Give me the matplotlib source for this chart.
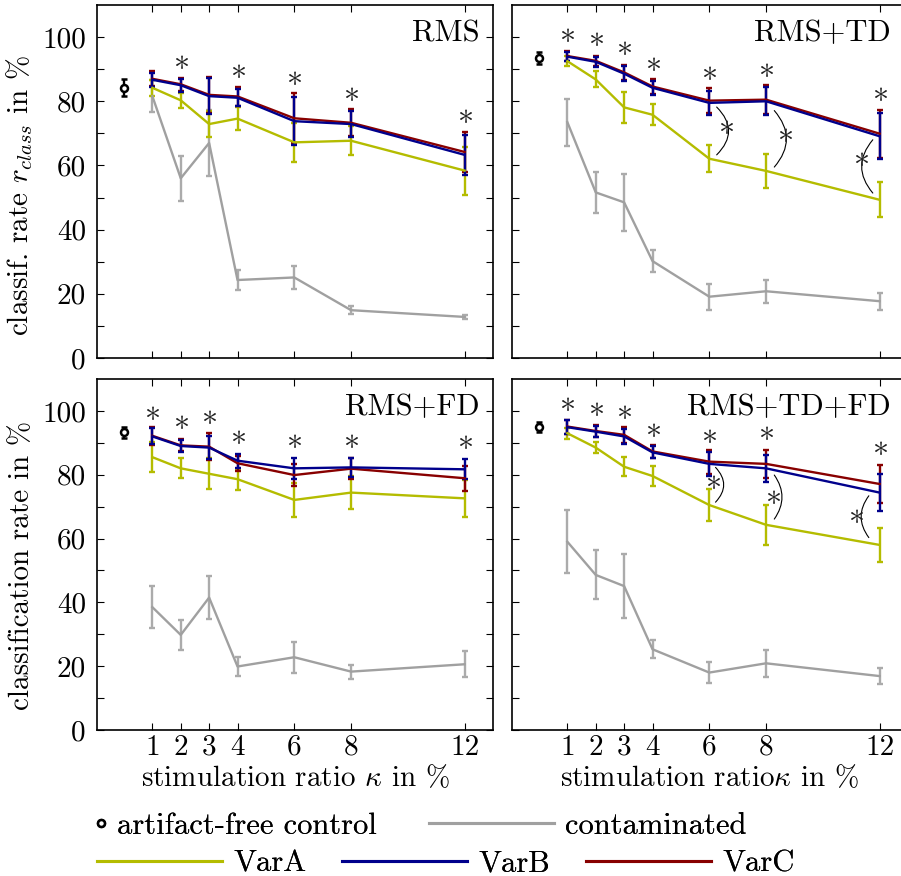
import matplotlib
matplotlib.use('Agg')
import matplotlib.pyplot as plt
from matplotlib.lines import Line2D

# stimulation ratios (x axis)
kappa = [1, 2, 3, 4, 6, 8, 12]

panels = ['RMS', 'RMS+TD', 'RMS+FD', 'RMS+TD+FD']

# artifact-free control (mean, error) per panel
ctrl_mean = [84.2, 93.5, 93.3, 94.9]
ctrl_err = [2.7, 1.8, 1.8, 1.6]

# contaminated
cont_mean = [
    [81.6, 56.0, 67.0, 24.3, 25.1, 14.9, 12.8],
    [73.5, 51.6, 48.5, 30.2, 19.1, 20.8, 17.7],
    [38.5, 29.8, 41.5, 19.9, 22.8, 18.3, 20.6],
    [59.0, 48.6, 45.1, 25.3, 18.0, 20.9, 16.9],
]
cont_err = [
    [5.0, 7.0, 10.3, 3.2, 3.7, 1.2, 0.6],
    [7.3, 6.3, 8.9, 3.5, 4.0, 3.6, 2.7],
    [6.5, 4.6, 6.7, 3.0, 4.8, 2.2, 4.1],
    [9.9, 7.7, 10.1, 2.8, 3.3, 4.3, 2.6],
]

varA_mean = [
    [84.2, 80.3, 72.9, 74.6, 67.2, 67.7, 58.4],
    [92.5, 86.8, 78.1, 75.8, 62.1, 58.3, 49.3],
    [85.5, 82.0, 80.3, 78.6, 72.1, 74.4, 72.6],
    [93.0, 88.5, 82.5, 79.6, 70.5, 64.3, 58.0],
]
varA_err = [
    [2.5, 2.4, 4.0, 3.5, 6.0, 4.5, 7.5],
    [1.5, 2.5, 4.9, 3.3, 4.2, 5.3, 5.5],
    [4.7, 3.1, 4.9, 3.3, 5.2, 5.2, 5.7],
    [1.8, 1.8, 3.0, 3.1, 4.9, 6.2, 5.4],
]

varB_mean = [
    [86.7, 85.0, 81.6, 81.1, 73.8, 72.9, 63.3],
    [93.9, 92.3, 88.6, 84.2, 79.5, 80.0, 69.1],
    [92.0, 89.0, 88.5, 84.4, 82.0, 82.3, 81.7],
    [94.9, 93.5, 92.0, 87.0, 83.4, 82.0, 74.4],
]
varB_err = [
    [2.2, 2.0, 5.5, 2.7, 7.5, 4.0, 6.2],
    [1.5, 1.5, 2.3, 2.2, 3.7, 4.3, 7.2],
    [2.5, 1.8, 3.6, 2.2, 3.2, 3.0, 3.1],
    [2.1, 1.8, 2.4, 1.9, 3.7, 4.3, 5.7],
]

varC_mean = [
    [87.0, 85.3, 82.0, 81.5, 74.7, 73.3, 64.2],
    [94.1, 92.6, 89.0, 84.6, 80.2, 80.5, 69.9],
    [92.2, 89.2, 88.8, 83.6, 79.9, 81.9, 78.9],
    [95.1, 93.7, 92.5, 87.3, 84.1, 83.4, 77.1],
]
varC_err = [
    [2.3, 2.1, 5.7, 2.9, 7.8, 4.2, 6.3],
    [1.6, 1.6, 2.4, 2.3, 3.9, 4.5, 7.5],
    [2.8, 1.9, 4.3, 2.3, 3.5, 3.3, 3.9],
    [2.2, 1.9, 2.5, 2.0, 3.8, 4.5, 5.9],
]

# significance stars (contaminated vs. cleaned)
star_x = [
    [2, 4, 6, 8, 12],
    [1, 2, 3, 4, 6, 8, 12],
    [1, 2, 3, 4, 6, 8, 12],
    [1, 2, 3, 4, 6, 8, 12],
]
star_y = [
    [92.5, 89.7, 87.5, 82.6, 75.5],
    [100.8, 99.5, 96.7, 91.8, 89.0, 89.9, 82.4],
    [99.5, 96.7, 98.4, 92.0, 90.7, 90.7, 90.4],
    [102.4, 100.8, 99.8, 94.3, 92.5, 93.2, 88.5],
]

# VarA vs VarB brackets: (curve x, top, bottom, rad, star x, star y)
brackets = [
    [],
    [(6.26, 78.2, 63.3, -0.5, 6.59, 72.2),
     (8.29, 77.1, 59.5, -0.43, 8.68, 69.6),
     (11.76, 68.0, 51.4, 0.42, 11.35, 62.3)],
    [],
    [(6.22, 82.3, 71.4, -0.47, 6.12, 77.8),
     (8.29, 79.9, 66.1, -0.35, 8.23, 73.4),
     (11.62, 73.4, 60.3, 0.37, 11.18, 67.4)],
]

c_A = '#b4bc00'
c_B = '#00008c'
c_C = '#880000'
c_gray = '#a0a0a0'
c_star = '#222222'

plt.rcParams['font.family'] = 'serif'
plt.rcParams['font.serif'] = ['cmr10']
plt.rcParams['mathtext.fontset'] = 'cm'
plt.rcParams['axes.formatter.use_mathtext'] = True
plt.rcParams['axes.unicode_minus'] = False

fig = plt.figure(figsize=(9.01, 8.76), dpi=100)
W, H = 901., 876.
rects = [
    [97 / W, (H - 358) / H, 396 / W, 353 / H],
    [512 / W, (H - 358) / H, 396 / W, 353 / H],
    [97 / W, (H - 730) / H, 396 / W, 351 / H],
    [512 / W, (H - 730) / H, 396 / W, 351 / H],
]
title_x = [0.967, 0.957, 0.967, 0.957]

lw = 1.7
for i, name in enumerate(panels):
    ax = fig.add_axes(rects[i])
    ebk = dict(capsize=2.3, elinewidth=lw, capthick=lw)
    ax.errorbar(kappa, cont_mean[i], yerr=cont_err[i], color=c_gray, lw=lw,
                ecolor='#ababab', **ebk)
    ax.errorbar(kappa, varA_mean[i], yerr=varA_err[i], color=c_A, lw=lw, **ebk)
    ax.errorbar(kappa, varC_mean[i], yerr=varC_err[i], color=c_C, lw=lw, **ebk)
    ax.errorbar(kappa, varB_mean[i], yerr=varB_err[i], color=c_B, lw=lw, **ebk)
    ax.errorbar([0], [ctrl_mean[i]], yerr=[ctrl_err[i]], fmt='o', color='k',
                mfc='white', ms=5, mew=1.8, **ebk)

    for sx, sy in zip(star_x[i], star_y[i]):
        ax.text(sx, sy, r'$\ast$', ha='center', va='center', fontsize=23,
                color=c_star)
    for cx, top, bot, rad, sx, sy in brackets[i]:
        ax.annotate('', xy=(cx, bot), xytext=(cx, top),
                    arrowprops=dict(arrowstyle='-', lw=0.8, color='k',
                                    shrinkA=0, shrinkB=0,
                                    connectionstyle='arc3,rad=%s' % rad))
        ax.text(sx, sy, r'$\ast$', ha='center', va='center', fontsize=23,
                color=c_star)

    ax.text(title_x[i], 0.958, name, transform=ax.transAxes, ha='right',
            va='top', fontsize=22)

    ax.set_xlim(-0.95, 13)
    ax.set_ylim(0, 110)
    ax.set_xticks(kappa)
    ax.set_yticks(range(0, 101, 10))
    ax.tick_params(direction='in', length=5, width=0.8, top=True, right=True,
                   labelsize=21)
    ax.tick_params(axis='y', pad=8)
    ax.tick_params(axis='x', pad=3)
    for sp in ax.spines.values():
        sp.set_linewidth(1.2)

    if i % 2 == 0:
        ax.set_yticklabels([str(v) if v % 20 == 0 else '' for v in range(0, 101, 10)])
    else:
        ax.set_yticklabels([])
    if i < 2:
        ax.set_xticklabels([])
    else:
        ax.set_xticklabels([str(k) for k in kappa])

    if i == 0:
        ax.set_ylabel(r'classif. rate $r_{class}$ in %', fontsize=21)
        ax.yaxis.set_label_coords(-0.157, 0.46)
    if i == 2:
        ax.set_ylabel('classification rate in %', fontsize=21)
        ax.yaxis.set_label_coords(-0.157, 0.469)
    if i == 2:
        ax.set_xlabel(r'stimulation ratio $\kappa$ in %', fontsize=21, labelpad=3)
    if i == 3:
        ax.set_xlabel(r'stimulation ratio$\kappa$ in %', fontsize=21, labelpad=3)

# legend entries placed individually
entries = [
    (Line2D([], [], ls='none', marker='o', color='k', mfc='white', ms=5, mew=1.8),
     'artifact-free control', 96, 826, 0.35),
    (Line2D([], [], color=c_gray, lw=2.2), 'contaminated', 429, 826, 4.1),
    (Line2D([], [], color=c_A, lw=2.2), 'VarA', 97, 864, 4.1),
    (Line2D([], [], color=c_B, lw=2.2), 'VarB', 342, 864, 4.1),
    (Line2D([], [], color=c_C, lw=2.2), 'VarC', 586, 864, 4.1),
]
for h, lab, px, py, hl in entries:
    leg = fig.legend([h], [lab], loc='center left',
                     bbox_to_anchor=(px / W, 1 - py / H), frameon=False,
                     fontsize=22, handlelength=hl, handletextpad=0.35,
                     borderpad=0, borderaxespad=0)
    fig.add_artist(leg)

fig.savefig('out.png', dpi=100)
